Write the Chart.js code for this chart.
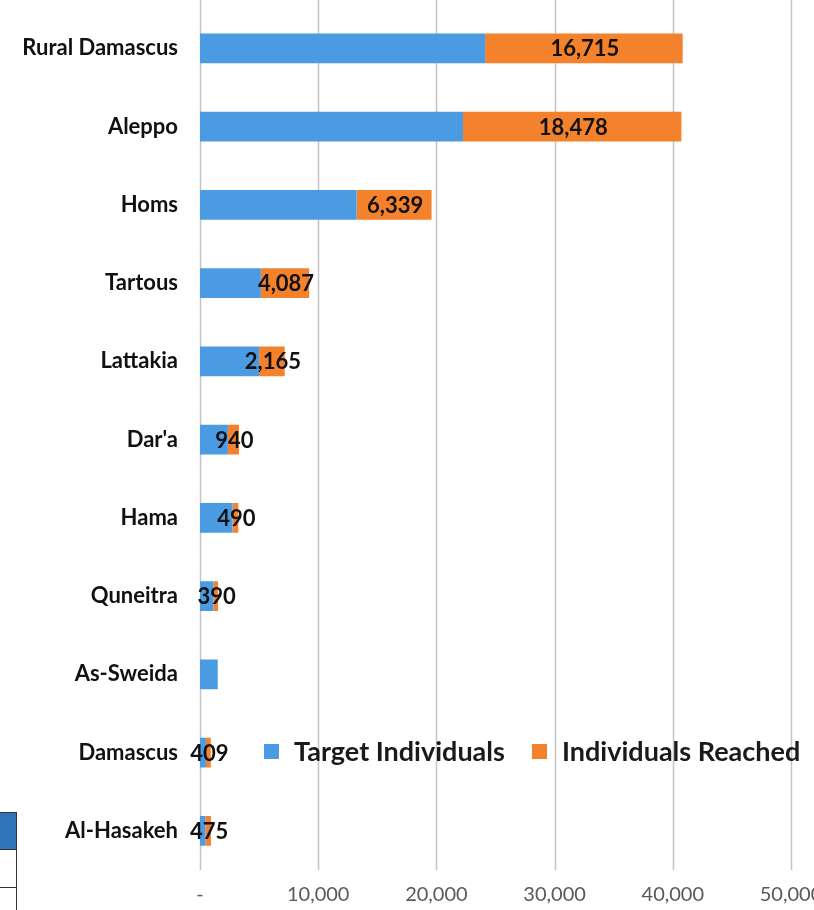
<!DOCTYPE html>
<html>
<head>
<meta charset="utf-8">
<script src="https://cdn.jsdelivr.net/npm/chart.js@4/dist/chart.umd.min.js"></script>
<style>
  html, body { margin: 0; padding: 0; background: #fff; overflow: hidden; width: 814px; height: 910px; }
  #wrap { position: relative; width: 840px; height: 910px; overflow: hidden; }
  #c { position: absolute; left: 0; top: -26px; }
  .tb { position: absolute; box-sizing: border-box; }
</style>
</head>
<body>
<div id="wrap">
  <canvas id="c" width="840" height="936"></canvas>
  <div class="tb" style="left:0;top:812px;width:17px;height:37px;background:#2f74b8;border-top:1.5px solid #333;border-right:1.5px solid #333;"></div>
  <div class="tb" style="left:0;top:849px;width:17px;height:39px;border-bottom:1.5px solid #333;border-right:1.5px solid #333;border-top:1px solid #333;"></div>
  <div class="tb" style="left:0;top:888px;width:17px;height:22px;border-right:1.5px solid #333;"></div>
</div>
<script>
const categories = ['Rural Damascus', 'Aleppo', 'Homs', 'Tartous', 'Lattakia', "Dar'a", 'Hama', 'Quneitra', 'As-Sweida', 'Damascus', 'Al-Hasakeh'];
const targetIndividuals = [24120, 22250, 13250, 5150, 5000, 2360, 2750, 1130, 1500, 500, 450];
const individualsReached = [16715, 18478, 6339, 4087, 2165, 940, 490, 390, null, 409, 475];
const xTicks = [0, 10000, 20000, 30000, 40000, 50000];
const seriesNames = ['Target Individuals', 'Individuals Reached'];

const BLUE = '#4b9be3';
const ORANGE = '#f4812c';
const SHIFT = 26;

const gridPlugin = {
  id: 'grid',
  beforeDatasetsDraw(chart) {
    const ctx = chart.ctx, xs = chart.scales.x, area = chart.chartArea;
    ctx.save();
    ctx.strokeStyle = '#c3c3c3';
    ctx.lineWidth = 1.5;
    xs.ticks.forEach(t => {
      const px = Math.round(xs.getPixelForValue(t.value)) + 0.5;
      ctx.beginPath();
      ctx.moveTo(px, 0);
      ctx.lineTo(px, area.bottom);
      ctx.stroke();
    });
    ctx.restore();
  }
};

const labelPlugin = {
  id: 'vals',
  afterDatasetsDraw(chart) {
    const ctx = chart.ctx;
    const meta = chart.getDatasetMeta(1);
    ctx.save();
    ctx.font = 'bold 22px Lato';
    ctx.fillStyle = '#111';
    ctx.textAlign = 'center';
    ctx.textBaseline = 'middle';
    meta.data.forEach((el, i) => {
      const v = individualsReached[i];
      if (v == null) return;
      const p = el.getProps(['x', 'y', 'base'], true);
      ctx.fillText(v.toLocaleString('en-US'), (p.x + p.base) / 2 + 1, p.y + 1);
    });
    ctx.restore();
  }
};

const legendPlugin = {
  id: 'customLegend',
  afterDraw(chart) {
    const ctx = chart.ctx;
    const y = 751 + SHIFT;
    const items = [
      { x: 264, color: BLUE, text: seriesNames[0] },
      { x: 532, color: ORANGE, text: seriesNames[1] }
    ];
    ctx.save();
    ctx.font = 'bold 27px Lato';
    ctx.textBaseline = 'middle';
    ctx.textAlign = 'left';
    items.forEach(it => {
      ctx.fillStyle = it.color;
      ctx.fillRect(it.x, y - 7, 15, 15);
      ctx.fillStyle = '#1a1a1a';
      ctx.fillText(it.text, it.x + 30, y + 1);
    });
    ctx.restore();
  }
};

new Chart(document.getElementById('c'), {
  type: 'bar',
  data: {
    labels: categories,
    datasets: [
      { label: seriesNames[0], data: targetIndividuals, backgroundColor: BLUE, barPercentage: 0.38, categoryPercentage: 1 },
      { label: seriesNames[1], data: individualsReached, backgroundColor: ORANGE, barPercentage: 0.38, categoryPercentage: 1 }
    ]
  },
  options: {
    indexAxis: 'y',
    responsive: false,
    animation: false,
    layout: { padding: { top: 7, right: 49, bottom: 0, left: 0 } },
    plugins: { legend: { display: false }, tooltip: { enabled: false } },
    scales: {
      x: {
        stacked: true,
        min: 0,
        max: 50000,
        afterBuildTicks(scale) { scale.ticks = xTicks.map(v => ({ value: v })); },
        afterFit(scale) { scale.height = 40; },
        grid: { display: false, drawTicks: false },
        border: { display: false },
        ticks: {
          padding: 13,
          color: '#595959',
          font: { family: 'Lato', size: 20 },
          callback: v => v === 0 ? '-' : v.toLocaleString('en-US'),
          maxRotation: 0
        }
      },
      y: {
        stacked: true,
        afterFit(scale) { scale.width = 200; },
        grid: { display: false, drawTicks: false },
        border: { display: false },
        ticks: {
          padding: 22,
          color: '#111',
          font: { family: 'Lato', size: 22, weight: 'bold' }
        }
      }
    }
  },
  plugins: [gridPlugin, labelPlugin, legendPlugin]
});
</script>
</body>
</html>
